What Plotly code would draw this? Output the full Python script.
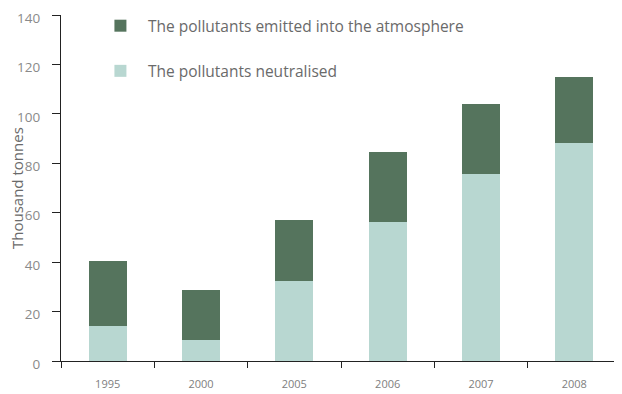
import plotly.graph_objects as go

years = ["1995", "2000", "2005", "2006", "2007", "2008"]
neutralised = [14.0, 8.7, 32.5, 56.2, 75.6, 88.2]
emitted_total = [40.5, 28.8, 57.1, 84.5, 103.8, 115.1]
emitted = [round(t - n, 1) for t, n in zip(emitted_total, neutralised)]

DARK = "#55745D"
LIGHT = "#B8D7D1"
FONT = "Open Sans"

fig = go.Figure()
fig.add_trace(go.Bar(x=years, y=neutralised, name="The pollutants neutralised",
                     marker=dict(color=LIGHT, line=dict(width=0)), width=0.41,
                     legendgroup="b", legendrank=2))
fig.add_trace(go.Bar(x=years, y=emitted, name="The pollutants emitted into the atmosphere",
                     marker=dict(color=DARK, line=dict(width=0)), width=0.41,
                     legendgroup="a", legendrank=1))

fig.update_layout(
    barmode="stack",
    width=614, height=386,
    margin=dict(l=53, r=1, t=5, b=33),
    plot_bgcolor="white", paper_bgcolor="white",
    font=dict(family=FONT, color="#777777"),
    showlegend=True,
    legend=dict(x=0.057, y=1.017, xanchor="left", yanchor="top",
                traceorder="grouped", tracegroupgap=22,
                font=dict(size=15.5, color="#6a6a6a", family=FONT),
                bgcolor="rgba(0,0,0,0)", itemwidth=45),
    xaxis=dict(type="category", range=[-0.5, 5.5], showline=True, linecolor="#222222",
               linewidth=1.2, ticks="outside", tickson="boundaries", ticklen=6,
               tickcolor="#222222", tickfont=dict(size=11, color="#808080"),
               ticklabelstandoff=13, showgrid=False, zeroline=False, automargin=False,
               ticklabeloverflow="allow"),
    yaxis=dict(range=[0, 140], tickvals=[0, 20, 40, 60, 80, 100, 120, 140],
               showline=True, linecolor="#222222", linewidth=1.2, ticks="outside",
               ticklen=8, tickcolor="#222222", tickfont=dict(size=13.5, color="#8a8a8a"),
               ticklabelstandoff=9, ticklabelshift=3, showgrid=False, zeroline=False,
               automargin=False, ticklabeloverflow="allow"),
    annotations=[dict(text="Thousand tonnes", textangle=-90, xref="paper", yref="paper",
                      x=0, y=0.5, xanchor="center", yanchor="middle", xshift=-44,
                      showarrow=False, font=dict(size=15, color="#6a6a6a", family=FONT))],
)

fig.write_html("out.html")
